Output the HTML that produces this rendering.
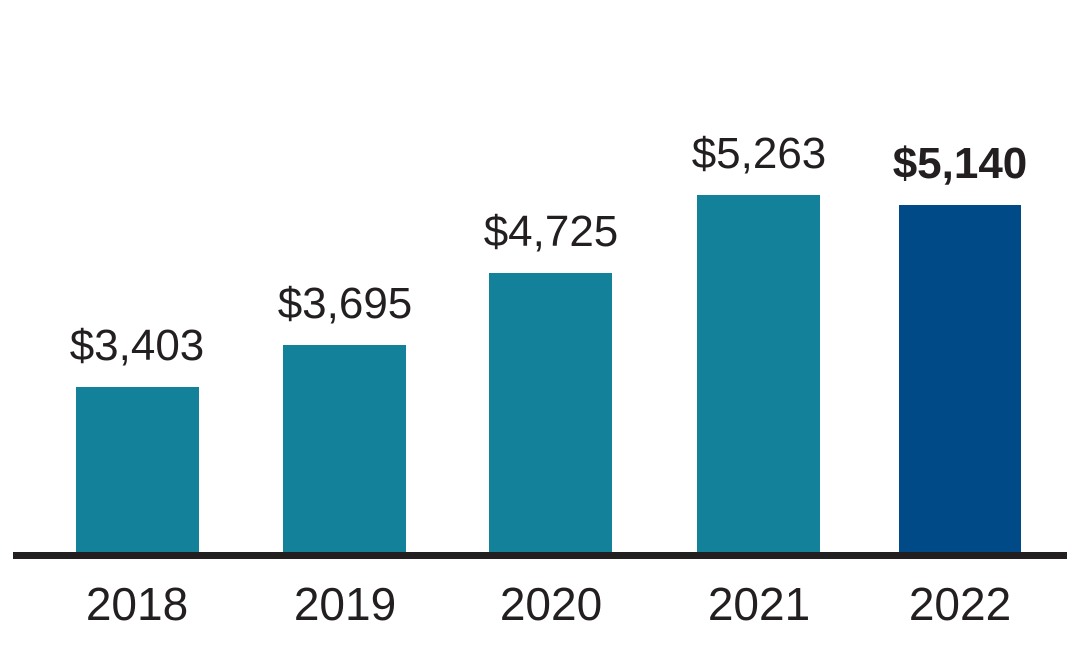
<!DOCTYPE html>
<html><head><style>
body{margin:0;width:1080px;height:656px;background:#fff;overflow:hidden}
</style></head><body>
<svg width="1080" height="656" xmlns="http://www.w3.org/2000/svg" font-family="Liberation Sans, sans-serif" fill="#231f20">
<rect x="76" y="387" width="123" height="166" fill="#13819a"/>
<rect x="283" y="345" width="123" height="208" fill="#13819a"/>
<rect x="489" y="273" width="123" height="280" fill="#13819a"/>
<rect x="697" y="195" width="123" height="358" fill="#13819a"/>
<rect x="899" y="205" width="122" height="348" fill="#004b87"/>
<rect x="13" y="552" width="1054" height="7" fill="#231f20"/>
<g font-size="44" text-anchor="middle">
<text x="137" y="360">$3,403</text>
<text x="345" y="318">$3,695</text>
<text x="551" y="246">$4,725</text>
<text x="759" y="168">$5,263</text>
<text x="960" y="178" font-weight="bold">$5,140</text>
</g>
<g font-size="46" text-anchor="middle">
<text x="137" y="620">2018</text>
<text x="345" y="620">2019</text>
<text x="551" y="620">2020</text>
<text x="759" y="620">2021</text>
<text x="960" y="620">2022</text>
</g>
</svg>
</body></html>
